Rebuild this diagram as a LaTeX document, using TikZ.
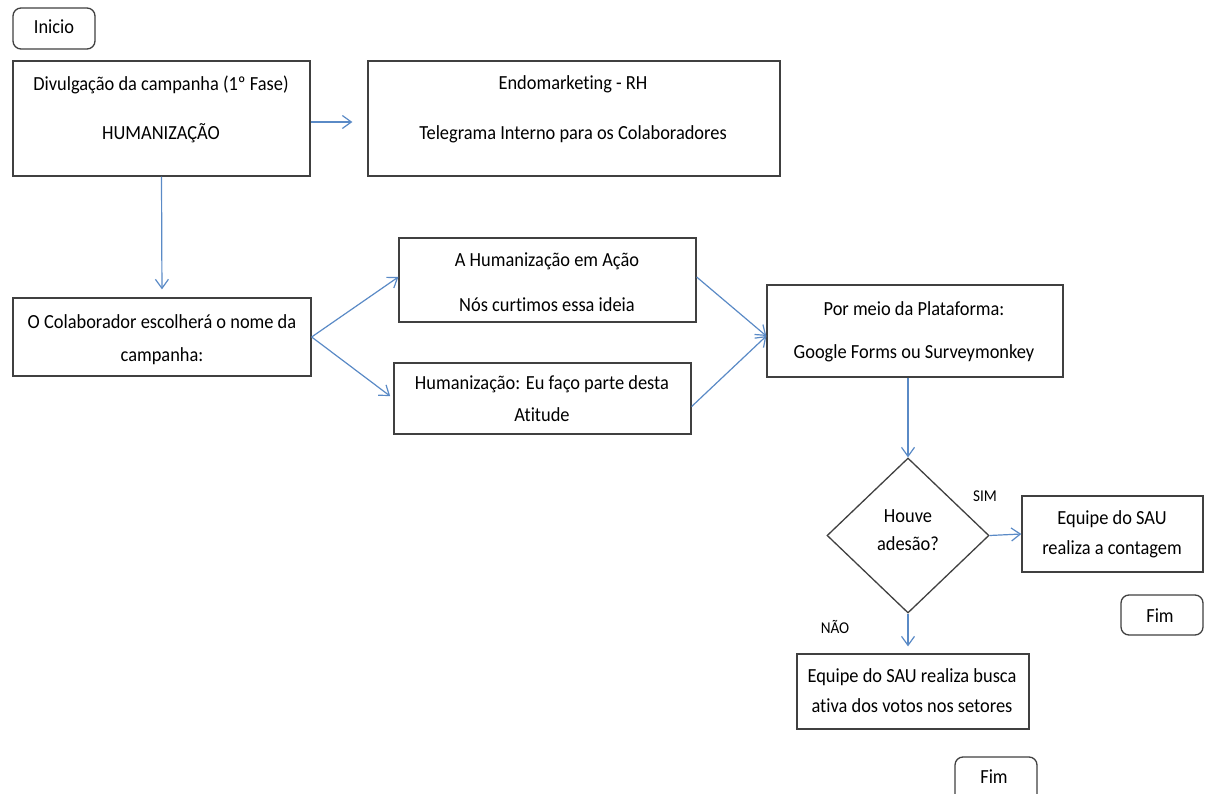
\documentclass[tikz,border=0pt]{standalone}
\usepackage{fontspec}
\setmainfont{Carlito}[FakeStretch=0.92,Ligatures=NoCommon]
\usetikzlibrary{shapes.geometric,arrows.meta}
\definecolor{boxline}{HTML}{404040}
\definecolor{conn}{HTML}{5A8AC6}
\tikzset{
  box/.style={draw=boxline,line width=1.3pt,fill=white,inner sep=0pt},
  term/.style={box,rounded corners=8pt},
  txt/.style={anchor=base,inner sep=0pt,font=\fontsize{20}{24}\selectfont,text=black},
  small/.style={anchor=base,inner sep=0pt,font=\fontsize{16.5}{20}\selectfont,text=black},
  conn/.style={draw=conn,line width=1.2pt,-{Straight Barb[length=9pt,width=13pt,line width=1.2pt]}}
}
\begin{document}
\begin{tikzpicture}[x=1pt,y=-1pt]
\useasboundingbox (0,0) rectangle (1205,794);
% boxes
\node[term,minimum width=82pt,minimum height=41pt] (inicio) at (54,28.5) {};
\node[box,minimum width=297pt,minimum height=115pt] (divulg) at (161.5,118.5) {};
\node[box,minimum width=412pt,minimum height=115pt] (endo) at (574,118.5) {};
\node[box,minimum width=298pt,minimum height=78pt] (colab) at (162,337) {};
\node[box,minimum width=297pt,minimum height=84pt] (ahum) at (547.5,280) {};
\node[box,minimum width=297pt,minimum height=71pt] (eufaco) at (542.5,398.5) {};
\node[box,minimum width=296pt,minimum height=92pt] (pormeio) at (915,331) {};
\node[diamond,draw=boxline,line width=1.3pt,inner sep=0pt,minimum width=162pt,minimum height=155pt] (dia) at (908,535.5) {};
\node[box,minimum width=181pt,minimum height=76pt] (contagem) at (1112.5,534) {};
\node[term,minimum width=82pt,minimum height=40pt] (fim1) at (1162,615) {};
\node[box,minimum width=232pt,minimum height=75pt] (busca) at (913,691.5) {};
\node[term,minimum width=82pt,minimum height=50pt] (fim2) at (996,782) {};
% texts
\node[txt] (tinicio) at (54,34) {Inicio};
\node[txt] (tdiv1) at (161,91) {Divulgação da campanha (1º Fase)};
\node[txt] (tdiv2) at (161,140) {HUMANIZAÇÃO};
\node[txt] (tendo1) at (573,90) {Endomarketing - RH};
\node[txt] (tendo2) at (573,140) {Telegrama Interno para os Colaboradores};
\node[txt] (tcol1) at (162,329) {O Colaborador escolherá o nome da};
\node[txt] (tcol2) at (162,362) {campanha:};
\node[txt] (tahum1) at (547,267) {A Humanização em Ação};
\node[txt] (tahum2) at (547,312) {Nós curtimos essa ideia};
\node[txt] (teu1) at (542,389) {Humanização: Eu faço parte desta};
\node[txt] (teu2) at (542,421) {Atitude};
\node[txt] (tpor1) at (914,316) {Por meio da Plataforma:};
\node[txt] (tpor2) at (914,359) {Google Forms ou Surveymonkey};
\node[txt] (tdia1) at (908,522) {Houve};
\node[txt] (tdia2) at (908,550) {adesão?};
\node[small] (tsim) at (985,501) {SIM};
\node[txt] (tcont1) at (1112,524) {Equipe do SAU};
\node[txt] (tcont2) at (1112,554) {realiza a contagem};
\node[txt] (tfim1) at (1160,622) {Fim};
\node[small] (tnao) at (835,633) {NÃO};
\node[txt] (tbus1) at (912,682) {Equipe do SAU realiza busca};
\node[txt] (tbus2) at (912,712) {ativa dos votos nos setores};
\node[txt] (tfim2) at (994,783) {Fim};
% connectors
\draw[conn,shorten >=15pt] (divulg.east |- 0,122) -- (endo.west |- 0,122);
\draw[conn,shorten >=8pt] (divulg.south) -- (colab.north);
\draw[conn] (colab.east) -- ([yshift=3pt]ahum.west);
\draw[conn,shorten >=4pt] (colab.east) -- (eufaco.west);
\draw[conn] ([yshift=3pt]ahum.east) -- ([yshift=-5pt]pormeio.west);
\draw[conn] ([yshift=-8pt]eufaco.east) -- ([yshift=-5pt]pormeio.west);
\draw[conn] (pormeio.south -| dia.north) -- (dia.north);
\draw[conn] (dia.east) -- (contagem.west);
\draw[conn,shorten >=7pt] (dia.south) -- (dia.south |- busca.north);
\end{tikzpicture}
\end{document}
